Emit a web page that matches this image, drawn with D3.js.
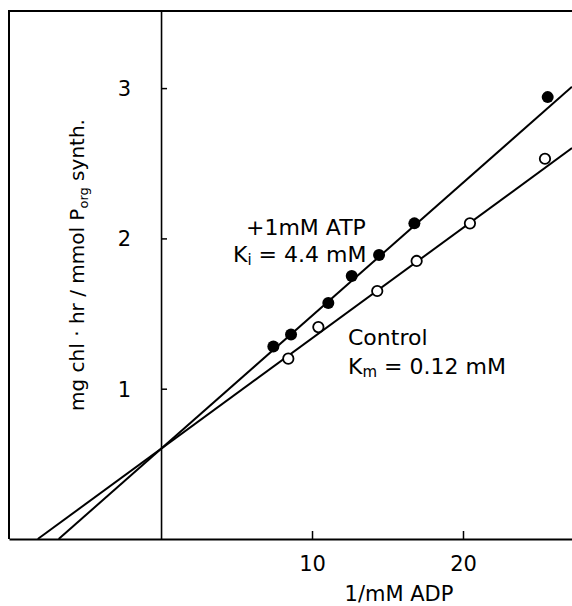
<!DOCTYPE html>
<html>
<head>
<meta charset="utf-8">
<script src="https://cdn.jsdelivr.net/npm/d3@7"></script>
<style>
  body { margin: 0; background: #fff; }
  text { font-family: "DejaVu Sans", sans-serif; fill: #000; }
</style>
</head>
<body>
<svg id="chart" width="572" height="606"></svg>
<script>
'use strict';

// values
const atpX = [7.44, 8.61, 11.08, 12.63, 14.44, 16.78, 25.61];
const atpY = [1.28, 1.36, 1.57, 1.75, 1.89, 2.10, 2.94];
const ctrlX = [8.43, 10.42, 14.32, 16.93, 20.46, 25.43];
const ctrlY = [1.20, 1.41, 1.65, 1.85, 2.10, 2.53];

// fitted lines: common intercept, one slope per series
const fitIntercept = 0.6;
const fitSlopes = [0.0885, 0.0735];   // +ATP, control

const xTicks = [10, 20];
const yTicks = [1, 2, 3];

let svg = d3.select("#chart");

let x = d3.scaleLinear().domain([-10.07, 27.22]).range([9, 572]);
let y = d3.scaleLinear().domain([0, 3.513]).range([539, 11]);

// frame (top + left), right side runs off the page
svg.append("path")
	.attr("d", "M" + x(27.5) + "," + y(3.513) + "H" + x(-10.07) + "V" + y(0))
	.attr("fill", "none")
	.attr("stroke", "#000")
	.attr("stroke-width", 2);

// x axis along bottom border
let xAxis = svg.append("g")
	.attr("transform", "translate(0," + y(0) + ")")
	.call(d3.axisBottom(x).tickValues(xTicks).tickFormat(d3.format("d"))
		.tickSizeInner(-8).tickSizeOuter(0).tickPadding(17));
xAxis.select(".domain").attr("stroke-width", 2);
xAxis.selectAll(".tick line").attr("stroke-width", 1.5);
xAxis.selectAll("text").attr("font-size", 21).attr("font-family", "DejaVu Sans");

// y axis at x = 0
let yAxis = svg.append("g")
	.attr("transform", "translate(" + x(0) + ",0)")
	.call(d3.axisLeft(y).tickValues(yTicks).tickFormat(d3.format("d"))
		.tickSizeInner(-6).tickSizeOuter(0).tickPadding(30));
yAxis.select(".domain").attr("stroke-width", 1.6);
yAxis.selectAll(".tick line").attr("stroke-width", 1.5);
yAxis.selectAll("text").attr("font-size", 21).attr("font-family", "DejaVu Sans").attr("dy", "0.36em");

// fitted lines, from y = 0 up to the right edge
let lineGen = d3.line().x(d => x(d[0])).y(d => y(d[1]));
fitSlopes.forEach(function (m) {
	let x0 = -fitIntercept / m;
	let x1 = x.domain()[1];
	svg.append("path")
		.datum([[x0, 0], [x1, fitIntercept + m * x1]])
		.attr("d", lineGen)
		.attr("fill", "none")
		.attr("stroke", "#000")
		.attr("stroke-width", 2);
});

// +ATP points (filled)
svg.selectAll(".atp")
	.data(atpX)
	.enter().append("circle")
	.attr("class", "atp")
	.attr("cx", d => x(d))
	.attr("cy", (d, i) => y(atpY[i]))
	.attr("r", 6)
	.attr("fill", "#000");

// control points (open)
svg.selectAll(".ctrl")
	.data(ctrlX)
	.enter().append("circle")
	.attr("class", "ctrl")
	.attr("cx", d => x(d))
	.attr("cy", (d, i) => y(ctrlY[i]))
	.attr("r", 5.2)
	.attr("fill", "#fff")
	.attr("stroke", "#000")
	.attr("stroke-width", 1.8);

// annotations
svg.append("text").attr("x", 246).attr("y", 235).attr("font-size", 22)
	.text("+1mM ATP");
let ki = svg.append("text").attr("x", 233).attr("y", 262).attr("font-size", 22);
ki.append("tspan").text("K");
ki.append("tspan").attr("font-size", 15).attr("dy", 3).text("i");
ki.append("tspan").attr("dy", -3).text(" = 4.4 mM");

svg.append("text").attr("x", 348).attr("y", 345).attr("font-size", 22)
	.text("Control");
let km = svg.append("text").attr("x", 348).attr("y", 374).attr("font-size", 22);
km.append("tspan").text("K");
km.append("tspan").attr("font-size", 15).attr("dy", 3).text("m");
km.append("tspan").attr("dy", -3).text(" = 0.12 mM");

// axis titles
svg.append("text")
	.attr("x", 399).attr("y", 601)
	.attr("text-anchor", "middle")
	.attr("font-size", 21)
	.text("1/mM ADP");

let yl = svg.append("text")
	.attr("transform", "translate(84,265) rotate(-90)")
	.attr("text-anchor", "middle")
	.attr("font-size", 20);
yl.append("tspan").text("mg chl \u00b7 hr / mmol P");
yl.append("tspan").attr("font-size", 13).attr("dy", 4).text("org");
yl.append("tspan").attr("dy", -4).text(" synth.");
</script>
</body>
</html>
